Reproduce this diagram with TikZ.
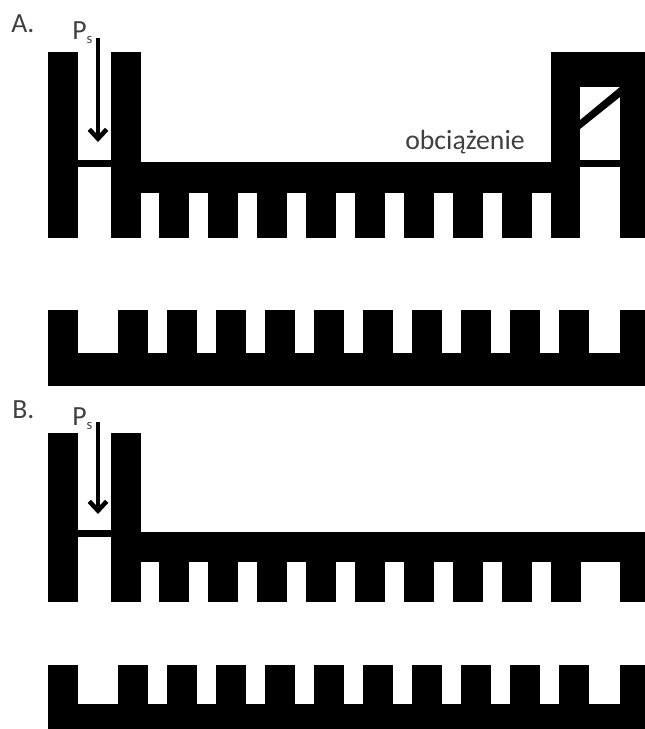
\documentclass[tikz,border=0pt]{standalone}
\usepackage{fontspec}
\setmainfont{Carlito}
\definecolor{labelgray}{HTML}{404040}
\usetikzlibrary{arrows.meta, positioning}
\newcommand{\subs}{\raisebox{-3.2pt}{\fontsize{11}{13}\selectfont s}}
\begin{document}
\begin{tikzpicture}[x=0.75pt, y=-0.75pt, every node/.style={font=\fontsize{20.8}{25}\selectfont, color=labelgray}]
  \tikzset{
    solid part/.style={fill=black, draw=none},
    force/.style={-{Straight Barb[length=7pt,width=13pt,line width=3.4pt]}, line width=2.6pt, black},
    panel/.style={inner sep=0pt, anchor=base west}
  }
  \useasboundingbox (0,0) rectangle (645,729);
  % A: upper part
  \fill[solid part] (48,52) rectangle (78,238);
  \fill[solid part] (111,52) rectangle (141,238);
  \fill[solid part] (78,160) rectangle (111,167);
  \fill[solid part] (141,162) rectangle (551,193);
  \foreach \i in {159,208,...,502}
    \fill[solid part] (\i,190) rectangle (\i+30,238);
  \fill[solid part] (551,52) rectangle (580,238);
  \fill[solid part] (620,52) rectangle (645,238);
  \fill[solid part] (580,52) rectangle (620,87);
  \fill[solid part] (580,160) rectangle (620,167);
  \fill[solid part] (580,120) -- (620,87) -- (620,97) -- (580,129) -- cycle;
  % A: lower part
  \fill[solid part] (48,353) rectangle (645,386);
  \fill[solid part] (48,310) rectangle (78,353);
  \foreach \i in {118,167,...,559}
    \fill[solid part] (\i,310) rectangle (\i+30,353);
  \fill[solid part] (620,310) rectangle (645,353);
  % B: upper part
  \fill[solid part] (48,433) rectangle (78,602);
  \fill[solid part] (111,433) rectangle (141,602);
  \fill[solid part] (78,530) rectangle (111,537);
  \fill[solid part] (141,532) rectangle (645,562);
  \foreach \i in {159,208,...,551}
    \fill[solid part] (\i,558) rectangle (\i+30,602);
  \fill[solid part] (620,558) rectangle (645,602);
  % B: lower part
  \fill[solid part] (48,704) rectangle (645,729);
  \fill[solid part] (48,665) rectangle (78,704);
  \foreach \i in {118,167,...,559}
    \fill[solid part] (\i,665) rectangle (\i+30,704);
  \fill[solid part] (620,665) rectangle (645,704);
  % labels
  \node[panel] (lblA) at (11,32) {A.};
  \node[panel] (lblB) at (12,418) {B.};
  \node[panel] (psA) at (72,39) {P\subs};
  \node[panel] (psB) at (72,425) {P\subs};
  \node[panel] (load) at (405,149) {obciążenie};
  \coordinate (topA) at (98,38);
  \coordinate (endA) at (98,142);
  \coordinate (topB) at (98,422);
  \coordinate (endB) at (98,514);
  \draw[force] (topA) -- (endA);
  \draw[force] (topB) -- (endB);
\end{tikzpicture}
\end{document}
